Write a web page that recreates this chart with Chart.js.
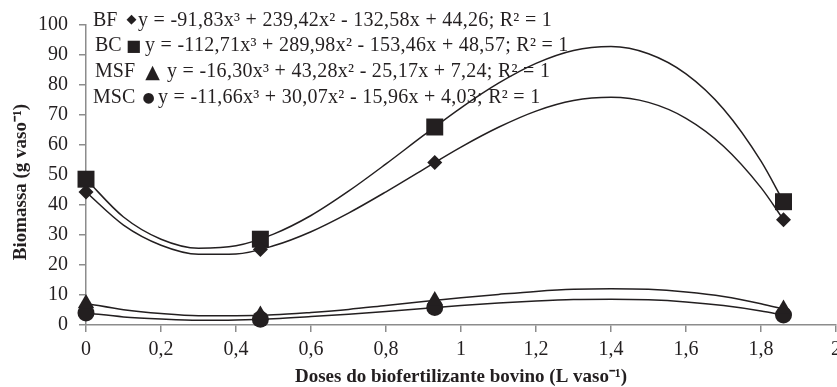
<!DOCTYPE html>
<html lang="pt">
<head>
<meta charset="utf-8">
<script src="https://cdn.jsdelivr.net/npm/chart.js@4/dist/chart.umd.min.js"></script>
<style>
	body { margin: 0; background: #ffffff; }
	#biomassa { display: block; }
</style>
</head>
<body>
<canvas id="biomassa" width="837" height="387"></canvas>
<script>
// Doses observées (L vaso-1) et biomasse mesurée pour chaque variable
const doses = [0, 0.465, 0.93, 1.86];
const bfObs = [44.3, 25.2, 54.2, 35.1];
const bcObs = [48.6, 28.6, 66.0, 41.1];
const msfObs = [7.2, 3.3, 8.2, 5.3];
const mscObs = [4.0, 1.9, 5.8, 3.3];

const curveX = [0, 0.1, 0.2, 0.3, 0.4, 0.5, 0.6, 0.7, 0.8, 0.9, 1.0, 1.1, 1.2, 1.3, 1.4, 1.5, 1.6, 1.7, 1.8, 1.86];
const bfCurve = [44.3, 33.3, 26.6, 23.6, 23.7, 26.4, 31.1, 37.3, 44.4, 51.9, 59.3, 65.9, 71.3, 74.8, 75.9, 74.2, 68.9, 59.6, 45.8, 35.1];
const bcCurve = [48.6, 36.0, 28.6, 25.6, 26.4, 30.3, 36.5, 44.6, 53.7, 63.2, 72.4, 80.6, 87.2, 91.5, 92.8, 90.4, 83.7, 72.0, 54.6, 41.1];
const msfCurve = [7.2, 5.1, 3.8, 3.1, 3.1, 3.4, 4.2, 5.2, 6.5, 7.8, 9.1, 10.2, 11.2, 11.9, 12.1, 11.9, 11.0, 9.5, 7.1, 5.3];
const mscCurve = [4.0, 2.7, 2.0, 1.6, 1.7, 2.1, 2.8, 3.6, 4.5, 5.5, 6.5, 7.3, 8.0, 8.5, 8.6, 8.4, 7.7, 6.5, 4.7, 3.3];

// Légende des équations en haut à gauche
const seriesNames = ['BF', 'BC', 'MSF', 'MSC'];
const seriesSymbols = ['\u25c6', '\u25a0', '\u25b2', '\u25cf'];
const equations = [
	'y = -91,83x\u00b3 + 239,42x\u00b2 - 132,58x + 44,26; R\u00b2 = 1',
	'y = -112,71x\u00b3 + 289,98x\u00b2 - 153,46x + 48,57; R\u00b2 = 1',
	'y = -16,30x\u00b3 + 43,28x\u00b2 - 25,17x + 7,24; R\u00b2 = 1',
	'y = -11,66x\u00b3 + 30,07x\u00b2 - 15,96x + 4,03; R\u00b2 = 1'
];

const xTitle = 'Doses do biofertilizante bovino (L vaso\u207b\u00b9)';
const yTitle = 'Biomassa (g vaso\u207b\u00b9)   ';

const serif = "'Liberation Serif', 'Times New Roman', serif";
const ink = '#231f20';
const axisGrey = '#8c8c8c';

function toPairs(xs, ys) {
	return xs.map((x, i) => ({ x: x, y: ys[i] }));
}

// Dessine les équations (nom, symbole, équation) sur le canvas
const equationsPlugin = {
	id: 'equations',
	afterDraw(chart) {
		const c = chart.ctx;
		// [x du nom, x du symbole, x de l'équation, ligne de base, taille du symbole, y du symbole]
		const pos = [
			[93, 131.5, 138, 26, 13, 20],
			[95, 133.5, 145, 51, 16, 47],
			[95, 152.5, 167, 77, 19, 73],
			[93, 148.5, 158, 103, 14, 98]
		];
		c.save();
		c.fillStyle = ink;
		seriesNames.forEach((name, i) => {
			const p = pos[i];
			c.textAlign = 'left';
			c.textBaseline = 'alphabetic';
			c.font = '20px ' + serif;
			c.letterSpacing = '0px';
			c.fillText(name, p[0], p[3]);
			c.letterSpacing = '0.28px';
			c.fillText(equations[i], p[2], p[3]);
			c.letterSpacing = '0px';
			c.textAlign = 'center';
			c.textBaseline = 'middle';
			c.font = p[4] + "px 'DejaVu Sans', sans-serif";
			c.fillText(seriesSymbols[i], p[1], p[5]);
		});
		c.restore();
	}
};

function curveDataset(values) {
	return {
		type: 'line',
		data: toPairs(curveX, values),
		borderColor: ink,
		borderWidth: 1.5,
		pointRadius: 0,
		cubicInterpolationMode: 'monotone',
		fill: false,
		order: 2
	};
}

function markerDataset(values, style, radius) {
	return {
		type: 'scatter',
		data: toPairs(doses, values),
		pointStyle: style,
		pointRadius: radius,
		pointBackgroundColor: ink,
		pointBorderColor: ink,
		pointBorderWidth: 0,
		showLine: false,
		clip: false,
		order: 1
	};
}

function createChart() {
	const ctx = document.getElementById('biomassa');

	new Chart(ctx, {
		data: {
			datasets: [
				curveDataset(bfCurve),
				curveDataset(bcCurve),
				curveDataset(msfCurve),
				curveDataset(mscCurve),
				markerDataset(bfObs, 'rectRot', 7.5),
				markerDataset(bcObs, 'rect', 12),
				markerDataset(msfObs, 'triangle', 9.5),
				markerDataset(mscObs, 'circle', 8.5)
			]
		},
		options: {
			responsive: false,
			animation: false,
			layout: {
				autoPadding: false,
				padding: { left: 0, right: 1, top: 25, bottom: 0 }
			},
			plugins: {
				legend: { display: false },
				tooltip: { enabled: false }
			},
			scales: {
				x: {
					type: 'linear',
					min: 0,
					max: 2,
					grid: { drawOnChartArea: false, color: axisGrey, tickLength: 7, lineWidth: 1.5 },
					border: { color: axisGrey, width: 1.5 },
					ticks: {
						stepSize: 0.2,
						color: ink,
						padding: 6,
						font: { family: serif, size: 20 },
						callback: (v) => String(Math.round(v * 10) / 10).replace('.', ',')
					},
					title: {
						display: true,
						text: xTitle,
						color: ink,
						padding: 0,
						font: { family: serif, size: 19, weight: 'bold', lineHeight: 1 }
					},
					afterFit: (scale) => {
						scale.height = 62;
						scale.paddingLeft = 0;
						scale.paddingRight = 0;
					}
				},
				y: {
					min: 0,
					max: 100,
					grid: { drawOnChartArea: false, color: axisGrey, tickLength: 7, lineWidth: 1.5 },
					border: { color: axisGrey, width: 1.5 },
					ticks: {
						stepSize: 10,
						color: ink,
						padding: 11,
						font: { family: serif, size: 20 }
					},
					title: {
						display: true,
						text: yTitle,
						color: ink,
						padding: { top: 10, bottom: 0 },
						font: { family: serif, size: 19, weight: 'bold', lineHeight: 1.2 }
					},
					afterFit: (scale) => {
						scale.width = 86;
						scale.paddingTop = 0;
						scale.paddingBottom = 0;
					}
				}
			}
		},
		plugins: [equationsPlugin]
	});
}

createChart();
</script>
</body>
</html>
